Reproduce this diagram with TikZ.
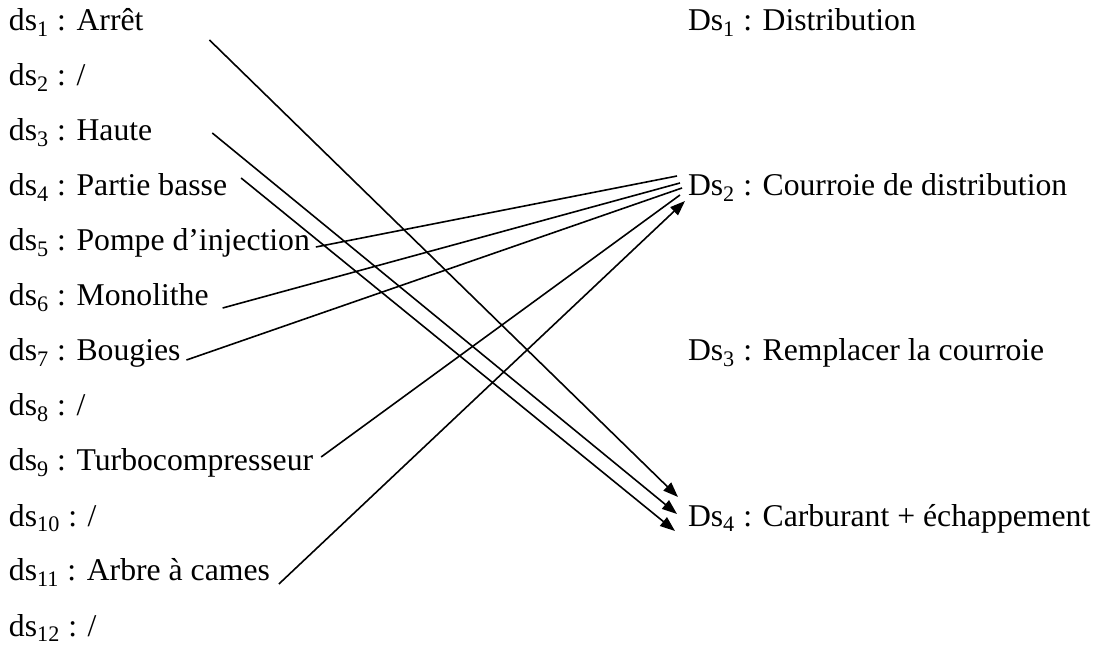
\documentclass[tikz,border=0pt]{standalone}
\usepackage{fontspec}
\setmainfont{Liberation Serif}
\usepackage{tikz}
\usetikzlibrary{arrows.meta}
\tikzset{
    slab/.style={
        anchor=base west, inner sep=0pt, outer sep=0pt,
        font=\fontsize{15.85}{18}\selectfont, text=black
    },
    sline/.style={line width=0.8pt, black},
    sarr/.style={-{Triangle[length=7.5pt, width=5.5pt]}, line width=0.8pt, black},
}

\begin{document}
\begin{tikzpicture}[x=0.5pt, y=-0.5pt]
    \useasboundingbox (0,0) rectangle (1098,646);

    % ── gauche : symptômes ─────────────────────────────
    \node [slab] (ds1)  at (9,31)  {ds\textsubscript{1} : Arrêt};
    \node [slab] (ds2)  at (9,86)  {ds\textsubscript{2} : /};
    \node [slab] (ds3)  at (9,141) {ds\textsubscript{3} : Haute};
    \node [slab] (ds4)  at (9,196) {ds\textsubscript{4} : Partie basse};
    \node [slab] (ds5)  at (9,251) {ds\textsubscript{5} : Pompe d’injection};
    \node [slab] (ds6)  at (9,306) {ds\textsubscript{6} : Monolithe};
    \node [slab] (ds7)  at (9,361) {ds\textsubscript{7} : Bougies};
    \node [slab] (ds8)  at (9,416) {ds\textsubscript{8} : /};
    \node [slab] (ds9)  at (9,471) {ds\textsubscript{9} : Turbocompresseur};
    \node [slab] (ds10) at (9,526) {ds\textsubscript{10} : /};
    \node [slab] (ds11) at (9,581) {ds\textsubscript{11} : Arbre à cames};
    \node [slab] (ds12) at (9,636) {ds\textsubscript{12} : /};

    % ── droite : diagnostics ───────────────────────────
    \node [slab] (Ds1) at (688,31)  {Ds\textsubscript{1} : Distribution};
    \node [slab] (Ds2) at (688,196) {Ds\textsubscript{2} : Courroie de distribution};
    \node [slab] (Ds3) at (688,361) {Ds\textsubscript{3} : Remplacer la courroie};
    \node [slab] (Ds4) at (688,526) {Ds\textsubscript{4} : Carburant + échappement};

    % ── liaisons vers Ds2 ──────────────────────────────
    \draw [sline] ([shift={(6,-4)}]ds5.base east)  -- ([shift={(-11,-20)}]Ds2.base west);
    \draw [sline] ([shift={(14,2)}]ds6.base east)  -- ([shift={(-8,-13)}]Ds2.base west);
    \draw [sline] ([shift={(6,-1)}]ds7.base east)  -- ([shift={(-6,-8)}]Ds2.base west);
    \draw [sline] ([shift={(8,-14)}]ds9.base east) -- ([shift={(-8,-1)}]Ds2.base west);
    \draw [sarr]  ([shift={(9,3)}]ds11.base east) -- ([shift={(-3,5)}]Ds2.base west);

    % ── liaisons vers Ds4 ──────────────────────────────
    \draw [sarr] ([shift={(66,9)}]ds1.base east)  -- ([shift={(-10,-29)}]Ds4.base west);
    \draw [sarr] ([shift={(60,-8)}]ds3.base east) -- ([shift={(-11,-12)}]Ds4.base west);
    \draw [sarr] ([shift={(14,-18)}]ds4.base east) -- ([shift={(-13,5)}]Ds4.base west);

\end{tikzpicture}
\end{document}
